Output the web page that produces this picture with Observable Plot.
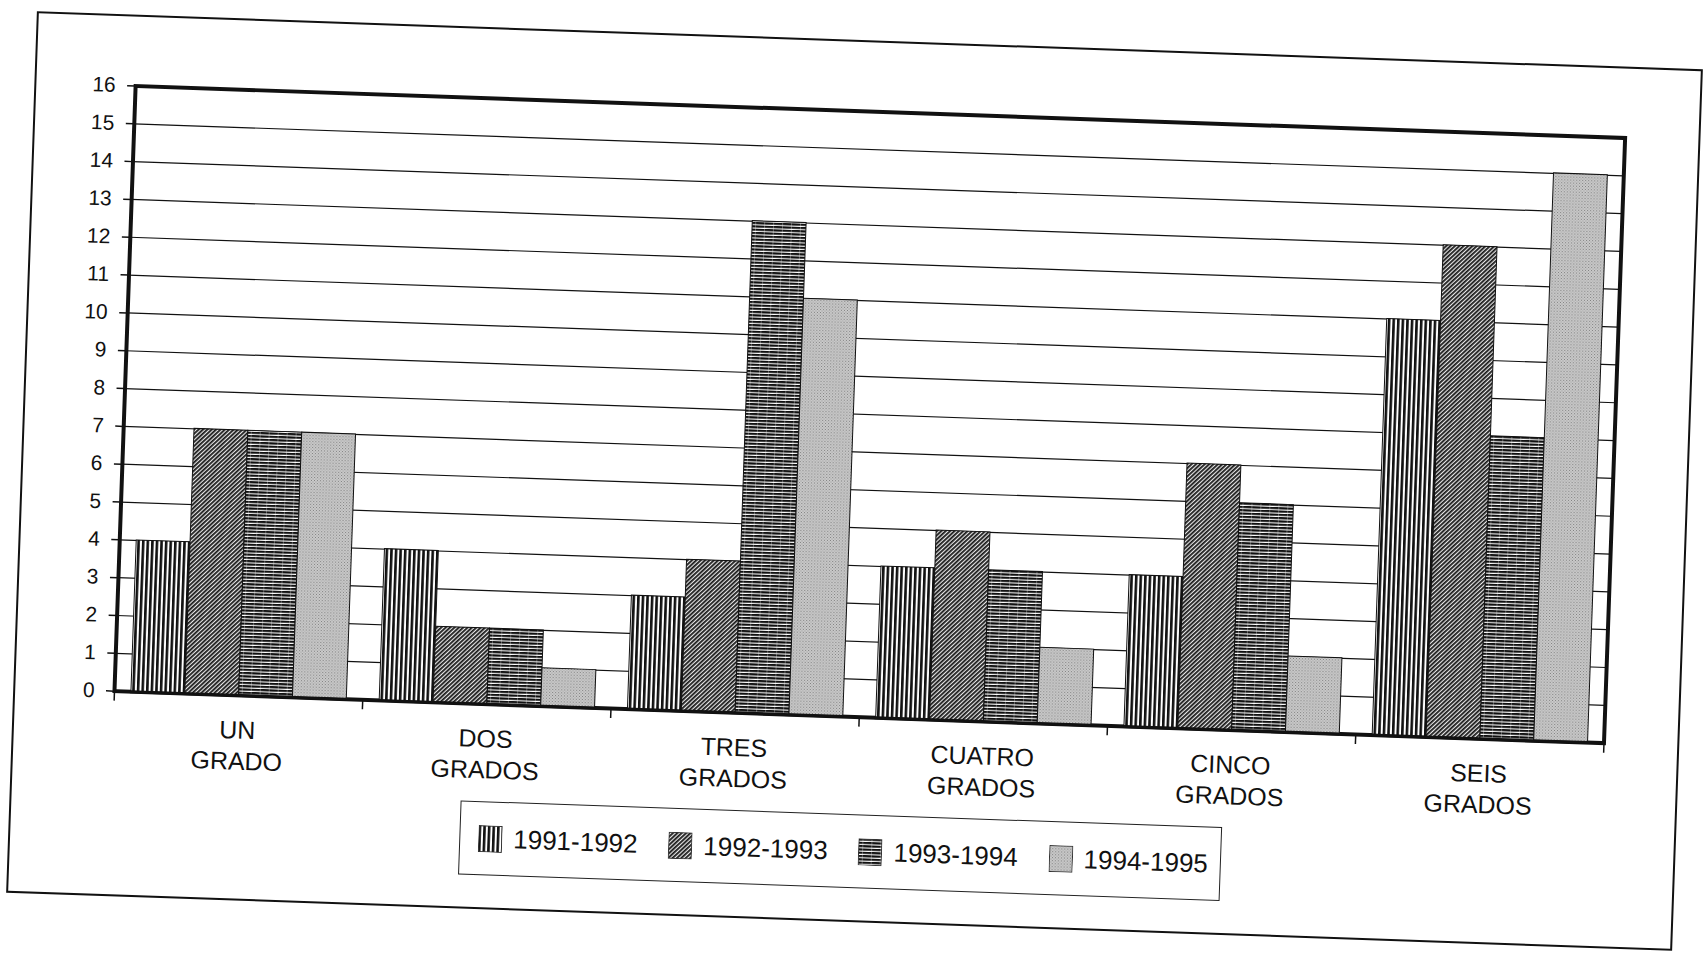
<!DOCTYPE html>
<html><head><meta charset="utf-8">
<script src="https://cdn.jsdelivr.net/npm/d3@7"></script>
<script src="https://cdn.jsdelivr.net/npm/@observablehq/plot@0.6"></script>
<style>
html,body{margin:0;padding:0;background:#fff;width:1704px;height:953px;overflow:hidden;}
#page{position:absolute;left:21px;top:40px;width:1667px;height:882px;box-sizing:border-box;border:2px solid #111;transform:rotate(2deg);transform-origin:50% 50%;font-family:"Liberation Sans",Arial,sans-serif;color:#111;}
.layer{position:absolute;left:0;top:-4px;}
#legend{position:absolute;left:449px;top:772px;width:762px;height:74px;box-sizing:border-box;border:1.5px solid #222;display:flex;align-items:center;justify-content:space-between;padding:0 12px 0 18px;font-size:26px;}
#legend .item{display:flex;align-items:center;gap:11px;}
</style></head><body>
<svg width="0" height="0" style="position:absolute">
  <defs>
    <pattern id="pat0" patternUnits="userSpaceOnUse" width="4.6" height="10">
      <rect width="4.6" height="10" fill="#fff"/><rect x="0" width="2.6" height="10" fill="#111"/>
    </pattern>
    <pattern id="pat1" patternUnits="userSpaceOnUse" width="10" height="3" patternTransform="rotate(-45)">
      <rect width="10" height="3" fill="#e8e8e8"/><rect y="0" width="10" height="1.8" fill="#1a1a1a"/>
    </pattern>
    <pattern id="pat2" patternUnits="userSpaceOnUse" width="9" height="3.3">
      <rect width="9" height="3.3" fill="#fff"/><rect y="0" width="9" height="2.2" fill="#111"/><rect x="4" y="0" width="1" height="3.3" fill="#fff" opacity="0.3"/>
    </pattern>
    <pattern id="pat3" patternUnits="userSpaceOnUse" width="3" height="3">
      <rect width="3" height="3" fill="#cbcbcb"/><rect x="0" y="0" width="1" height="1" fill="#7e7e7e"/><rect x="1.5" y="1.5" width="1" height="1" fill="#8e8e8e"/>
    </pattern>
  </defs>
</svg>
<div id="page"><div id="bg" class="layer"></div><div id="fg" class="layer"></div><div id="legend"></div></div>
<script>
const grados = ["UN\nGRADO", "DOS\nGRADOS", "TRES\nGRADOS", "CUATRO\nGRADOS", "CINCO\nGRADOS", "SEIS\nGRADOS"];
const series = ["1991-1992", "1992-1993", "1993-1994", "1994-1995"];
const v1991_1992 = [4, 4, 3, 4, 4, 11];
const v1992_1993 = [7, 2, 4, 5, 7, 13];
const v1993_1994 = [7, 2, 13, 4, 6, 8];
const v1994_1995 = [7, 1, 11, 2, 2, 15];
const yTicks = d3.range(0, 17);
const groupEdges = d3.range(0, grados.length + 1);

const valuesBySeries = [v1991_1992, v1992_1993, v1993_1994, v1994_1995];
const patterns = series.map((s, i) => `url(#pat${i})`);
const data = grados.flatMap((g, i) => series.map((s, j) => ({grado: g, serie: s, value: valuesBySeries[j][i]})));

const W = 1667, H = 800, mL = 99, mR = 74, mT = 73, mB = 120;
const font = '"Liberation Sans", Arial, sans-serif';

const bg = Plot.plot({
  width: W, height: H, marginLeft: mL, marginRight: mR, marginTop: mT, marginBottom: mB,
  style: {background: "transparent", fontFamily: font, fontSize: "21px", color: "#111"},
  x: {domain: [0, grados.length], axis: null},
  y: {domain: [0, 16], axis: null},
  marks: [
    Plot.gridY(yTicks, {stroke: "#111", strokeOpacity: 1, strokeWidth: 1.2}),
    Plot.axisY(yTicks, {tickSize: 8, tickPadding: 12, fontSize: 21, label: null, strokeWidth: 1.5, tickFormat: d => String(d)}),
    Plot.axisX(groupEdges, {tickSize: 10, tickFormat: () => "", label: null, strokeWidth: 1.5}),
    Plot.frame({stroke: "#111", strokeWidth: 4})
  ]
});
document.getElementById("bg").appendChild(bg);

const fg = Plot.plot({
  width: W, height: H, marginLeft: mL, marginRight: mR, marginTop: mT, marginBottom: mB,
  style: {background: "transparent", fontFamily: font, fontSize: "24px", color: "#111"},
  fx: {domain: grados, paddingInner: 0.13, paddingOuter: 0.065, label: null},
  x: {domain: series, padding: 0, axis: null},
  y: {domain: [0, 16], axis: null},
  color: {type: "ordinal", domain: series, range: patterns},
  marks: [
    Plot.barY(data, {fx: "grado", x: "serie", y: "value", fill: "serie", stroke: "#111", strokeWidth: 1}),
    Plot.ruleY([0], {stroke: "#111", strokeWidth: 3}),
    Plot.axisFx({anchor: "bottom", tickSize: 0, tickPadding: 21, fontSize: 25, lineHeight: 1.25, label: null})
  ]
});
document.getElementById("fg").appendChild(fg);

const legend = document.getElementById("legend");
series.forEach((s, i) => {
  const item = document.createElement("div");
  item.className = "item";
  item.innerHTML = `<svg width="24" height="27"><rect x="0.5" y="0.5" width="23" height="26" fill="${patterns[i]}" stroke="#333" stroke-width="1"/></svg><span>${s}</span>`;
  legend.appendChild(item);
});
</script>
</body></html>
